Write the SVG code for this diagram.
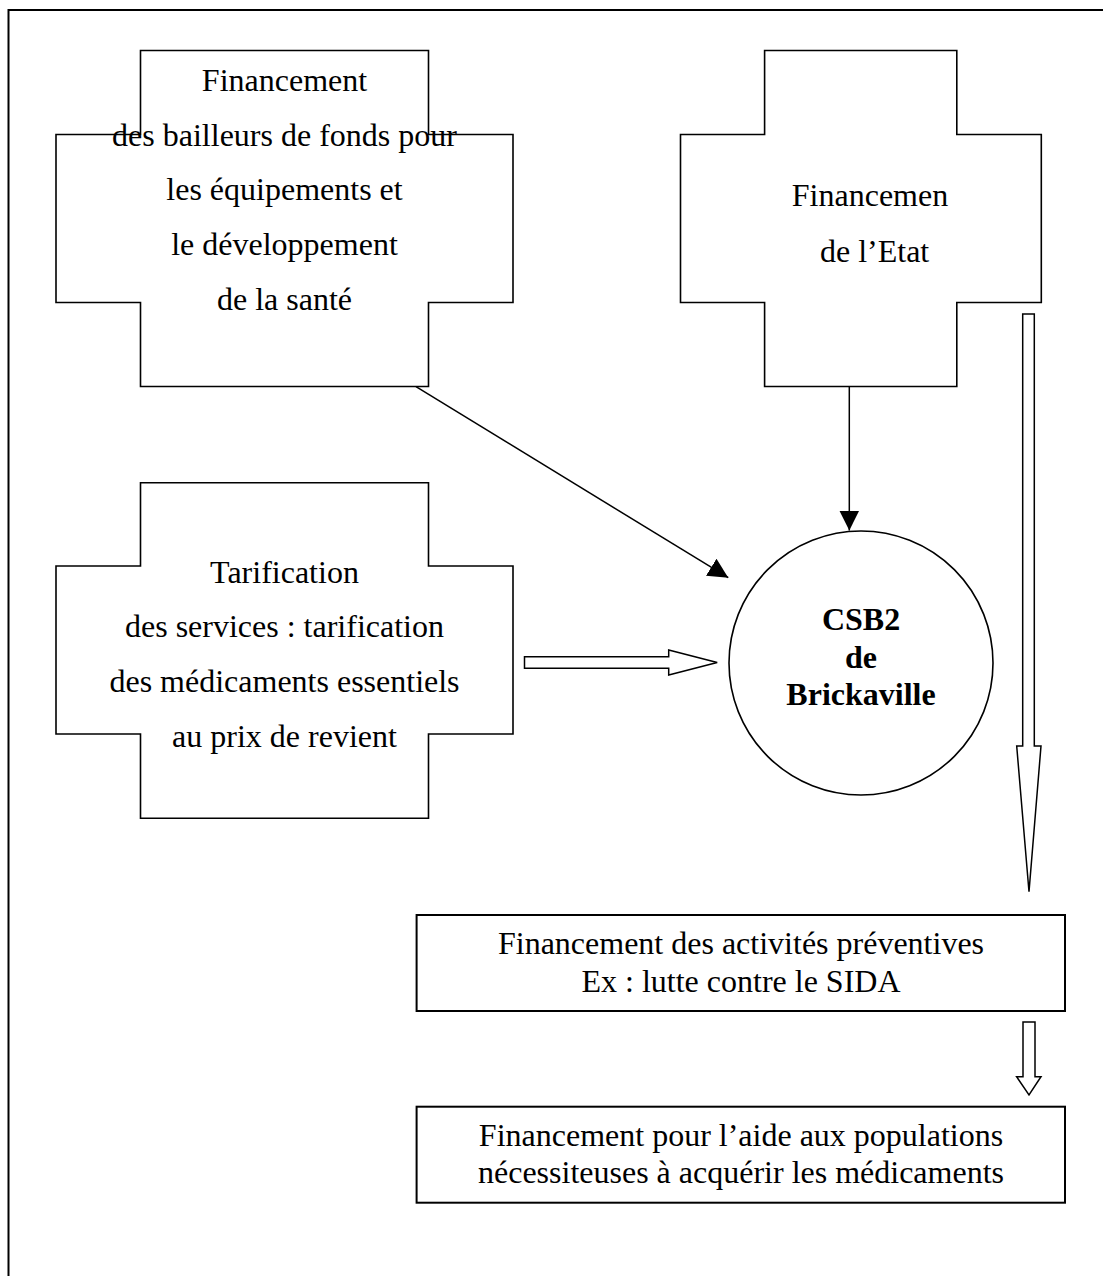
<svg xmlns="http://www.w3.org/2000/svg" width="1103" height="1276" viewBox="0 0 1103 1276">
<style>
.shape{fill:#fff;stroke:#000;stroke-width:1.6}
.box{fill:#fff;stroke:#000;stroke-width:2}
.t{font-family:"Liberation Serif","Times New Roman",serif;font-size:32px;fill:#000;text-anchor:middle}
.b{font-weight:bold}
.ln{stroke:#000;stroke-width:1.5;fill:none}
.hollow{fill:#fff;stroke:#000;stroke-width:1.5;stroke-linejoin:miter}
</style>
<defs>
<marker id="ah" markerUnits="userSpaceOnUse" markerWidth="20" markerHeight="20" refX="20" refY="10" orient="auto">
<path d="M0,0 L20,10 L0,20 z" fill="#000"/>
</marker>
</defs>
<rect width="1103" height="1276" fill="#fff"/>
<path d="M8.5,1276 L8.5,10 L1103,10" fill="none" stroke="#000" stroke-width="2"/>

<g id="bailleurs">
<polygon class="shape" points="140.5,50.5 428.5,50.5 428.5,134.5 513,134.5 513,302.5 428.5,302.5 428.5,386.5 140.5,386.5 140.5,302.5 56,302.5 56,134.5 140.5,134.5"/>
<text class="t" x="284.5" y="90.7">Financement</text>
<text class="t" x="284.5" y="145.7">des bailleurs de fonds pour</text>
<text class="t" x="284.5" y="200.3">les équipements et</text>
<text class="t" x="284.5" y="255">le développement</text>
<text class="t" x="284.5" y="310">de la santé</text>
</g>

<g id="etat">
<polygon class="shape" points="764.6,50.5 956.8,50.5 956.8,134.5 1041.3,134.5 1041.3,302.5 956.8,302.5 956.8,386.5 764.6,386.5 764.6,302.5 680.5,302.5 680.5,134.5 764.6,134.5"/>
<text class="t" x="870" y="206">Financemen</text>
<text class="t" x="874.6" y="261.7">de l’Etat</text>
</g>

<g id="tarification">
<polygon class="shape" points="140.5,482.7 428.5,482.7 428.5,566 513,566 513,734 428.5,734 428.5,818.3 140.5,818.3 140.5,734 56,734 56,566 140.5,566"/>
<text class="t" x="284.5" y="582.7">Tarification</text>
<text class="t" x="284.5" y="636.7">des services : tarification</text>
<text class="t" x="284.5" y="691.7">des médicaments essentiels</text>
<text class="t" x="284.5" y="746.7">au prix de revient</text>
</g>

<g id="csb2">
<circle class="shape" cx="861" cy="663" r="132"/>
<text class="t b" x="861" y="630">CSB2</text>
<text class="t b" x="861" y="667.7">de</text>
<text class="t b" x="861" y="705">Brickaville</text>
</g>

<g id="preventives">
<rect class="box" x="416.6" y="915" width="648.4" height="96"/>
<text class="t" x="741" y="954.3">Financement des activités préventives</text>
<text class="t" x="741" y="991.7">Ex : lutte contre le SIDA</text>
</g>

<g id="aide">
<rect class="box" x="416.6" y="1106.7" width="648.4" height="96"/>
<text class="t" x="741" y="1146">Financement pour l’aide aux populations</text>
<text class="t" x="741" y="1182.7">nécessiteuses à acquérir les médicaments</text>
</g>

<g id="connectors">
<line class="ln" x1="416" y1="386.7" x2="728.3" y2="577.7" marker-end="url(#ah)"/>
<line class="ln" x1="849.3" y1="386.7" x2="849.3" y2="530.5" marker-end="url(#ah)"/>
<polygon class="hollow" points="524.5,656.7 668.7,656.7 668.7,650 717.2,662.5 668.7,675 668.7,668.3 524.5,668.3"/>
<polygon class="hollow" points="1022.7,314 1034.3,314 1034.3,746 1041,746 1029,891.7 1016.7,746 1022.7,746"/>
<polygon class="hollow" points="1023,1022 1035,1022 1035,1076.7 1041,1076.7 1029,1095 1016.6,1076.7 1023,1076.7"/>
</g>
</svg>
